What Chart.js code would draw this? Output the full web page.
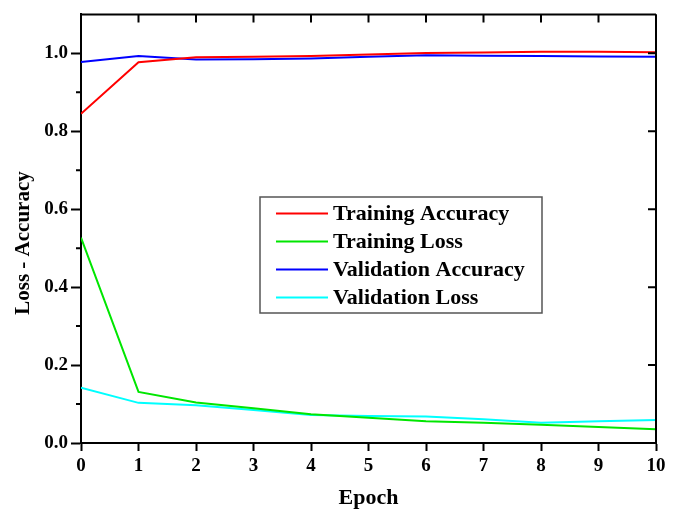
<!DOCTYPE html>
<html>
<head>
<meta charset="utf-8">
<script src="https://cdn.jsdelivr.net/npm/chart.js@4/dist/chart.umd.min.js"></script>
<style>
html,body{margin:0;padding:0;background:#fff;}
#wrap{width:677px;height:509px;position:relative;}
</style>
</head>
<body>
<div id="wrap"><canvas id="c" width="677" height="509"></canvas></div>
<script>
const epochs = [0,1,2,3,4,5,6,7,8,9,10];
const trainAcc = [0.845,0.977,0.990,0.991,0.993,0.997,1.001,1.002,1.004,1.004,1.003];
const trainLoss = [0.527,0.131,0.104,0.089,0.074,0.065,0.056,0.052,0.047,0.041,0.035];
const valAcc = [0.978,0.993,0.984,0.985,0.987,0.991,0.995,0.994,0.993,0.992,0.991];
const valLoss = [0.142,0.103,0.097,0.085,0.072,0.069,0.068,0.061,0.052,0.056,0.059];
const seriesNames = ['Training Accuracy','Training Loss','Validation Accuracy','Validation Loss'];
const seriesColors = ['#ff0000','#00e600','#0000ff','#00ffff'];
const xTicks = [0,1,2,3,4,5,6,7,8,9,10];
const yTicks = [0,0.2,0.4,0.6,0.8,1.0];
const yMinorTicks = [0.1,0.3,0.5,0.7,0.9];

const FONT = '"Liberation Serif","Times New Roman",serif';

const allData = [trainAcc, trainLoss, valAcc, valLoss];
const datasets = allData.map((arr,i)=>({
  label: seriesNames[i],
  data: epochs.map((e,j)=>({x:e,y:arr[j]})),
  borderColor: seriesColors[i],
  backgroundColor: seriesColors[i],
  borderWidth: 2,
  pointRadius: 0,
  tension: 0,
  fill: false
}));

const framePlugin = {
  id: 'frame',
  afterDraw(chart){
    const ctx = chart.ctx;
    const a = chart.chartArea;
    const xs = chart.scales.x, ys = chart.scales.y;
    ctx.save();
    ctx.strokeStyle = '#000';
    ctx.lineWidth = 2;
    ctx.beginPath();
    ctx.moveTo(a.left, a.top); ctx.lineTo(a.right, a.top);
    ctx.moveTo(a.right, a.top); ctx.lineTo(a.right, a.bottom);
    ctx.stroke();
    ctx.beginPath();
    xTicks.forEach(v=>{
      const px = xs.getPixelForValue(v);
      ctx.moveTo(px, a.top); ctx.lineTo(px, a.top+8);
    });
    yTicks.forEach(v=>{
      const py = ys.getPixelForValue(v);
      ctx.moveTo(a.right, py); ctx.lineTo(a.right-8, py);
    });
    yMinorTicks.forEach(v=>{
      const py = ys.getPixelForValue(v);
      ctx.moveTo(a.left, py); ctx.lineTo(a.left-5, py);
    });
    ctx.stroke();

    ctx.save();
    ctx.translate(24, 243);
    ctx.rotate(-Math.PI/2);
    ctx.fillStyle = '#000';
    ctx.font = 'bold 21px ' + FONT;
    ctx.textAlign = 'center';
    ctx.textBaseline = 'middle';
    ctx.fillText('Loss - Accuracy', 0, 0);
    ctx.restore();

    const bx = 260, by = 197, bw = 282, bh = 116;
    ctx.fillStyle = '#fff';
    ctx.fillRect(bx, by, bw, bh);
    ctx.strokeStyle = '#555';
    ctx.lineWidth = 1.5;
    ctx.strokeRect(bx, by, bw, bh);
    ctx.font = 'bold 22px ' + FONT;
    ctx.textAlign = 'left';
    ctx.textBaseline = 'middle';
    chart.data.datasets.forEach((ds,i)=>{
      const cy = 213.5 + i*28;
      ctx.strokeStyle = ds.borderColor;
      ctx.lineWidth = 2;
      ctx.beginPath();
      ctx.moveTo(276, cy); ctx.lineTo(328, cy);
      ctx.stroke();
      ctx.fillStyle = '#000';
      ctx.fillText(ds.label, 333, cy+1);
    });
    ctx.restore();
  }
};

new Chart(document.getElementById('c'), {
  type: 'line',
  data: { datasets },
  options: {
    responsive: false,
    animation: false,
    layout: { padding: { top: 14, right: 21, left: 0, bottom: 0 } },
    plugins: { legend: { display: false }, tooltip: { enabled: false } },
    scales: {
      x: {
        type: 'linear',
        min: 0, max: 10,
        afterBuildTicks(axis){ axis.ticks = xTicks.map(v=>({value:v})); },
        afterFit(scale){ scale.height = 66; },
        grid: { drawOnChartArea: false, drawTicks: true, tickLength: 8, tickColor: '#000', tickWidth: 2 },
        border: { display: true, color: '#000', width: 2 },
        ticks: { color: '#000', font: { family: FONT, size: 19, weight: 'bold' }, padding: 4, maxRotation: 0, autoSkip: false },
        title: { display: true, text: 'Epoch', color: '#000', font: { family: FONT, size: 22, weight: 'bold' }, padding: { top: 0, bottom: -3 } }
      },
      y: {
        type: 'linear',
        min: 0, max: 1.1,
        afterBuildTicks(axis){ axis.ticks = yTicks.map(v=>({value:v})); },
        afterFit(scale){ scale.width = 81; },
        grid: { drawOnChartArea: false, drawTicks: true, tickLength: 10, tickColor: '#000', tickWidth: 2 },
        border: { display: true, color: '#000', width: 2 },
        ticks: { color: '#000', font: { family: FONT, size: 19, weight: 'bold' }, padding: 3,
          callback: v => v.toFixed(1) }
      }
    }
  },
  plugins: [framePlugin]
});
</script>
</body>
</html>
